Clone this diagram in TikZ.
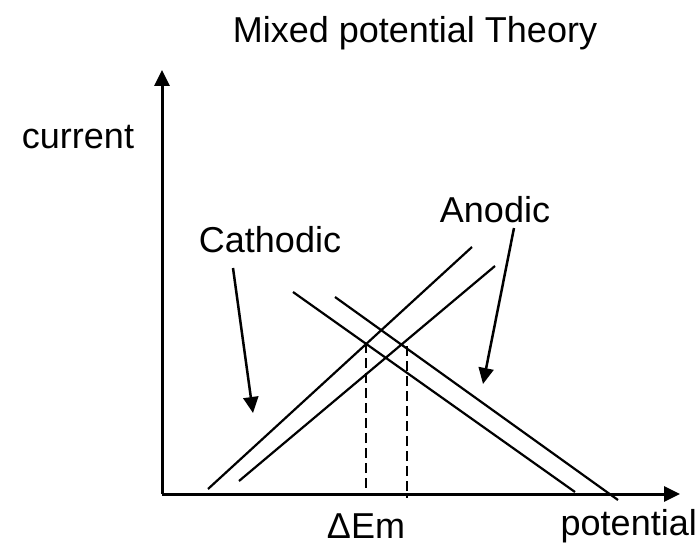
\documentclass[tikz,border=0pt]{standalone}
\usepackage{fontspec}
\setmainfont{Liberation Sans}
\usetikzlibrary{arrows.meta}
\begin{document}
\begin{tikzpicture}[x=1pt, y=-1pt, line cap=butt, line join=miter, >={Triangle[length=16pt,width=15pt]}, font=\fontsize{36}{43}\selectfont]
			\useasboundingbox (0,0) rectangle (699,551);
			% axes
			\coordinate (O) at (162,494);
			\coordinate (ytop) at (162,70);
			\coordinate (xend) at (680,494);
			\draw[line width=3pt,->] (O) -- (ytop);
			\draw[line width=3pt,->] (O) -- (xend);
			\node (title) at (415,33) {Mixed potential Theory};
			\node (ylab) at (78,137) {current};
			\node[anchor=east, inner xsep=0pt] (xlab) at (697,526) {potential};
			\node (dE) at (366,526) {ΔEm};
			% anodic and cathodic lines
			\coordinate (a1) at (208,489); \coordinate (a1e) at (472,247);
			\coordinate (a2) at (239,481); \coordinate (a2e) at (495,266);
			\coordinate (c1) at (293,292); \coordinate (c1e) at (575,492);
			\coordinate (c2) at (335,297); \coordinate (c2e) at (618,500);
			\draw[line width=2.2pt] (a1) -- (a1e) (a2) -- (a2e) (c1) -- (c1e) (c2) -- (c2e);
			% mixed potentials
			\coordinate (m1) at (366,343); \coordinate (m1b) at (366,493);
			\coordinate (m2) at (407,346); \coordinate (m2b) at (407,498);
			\draw[line width=2.2pt, dash pattern=on 10pt off 5pt] (m1) -- (m1b) (m2) -- (m2b);
			% labels
			\node (cat) at (270,240) {Cathodic};
			\node (ano) at (495,210) {Anodic};
			\coordinate (cattail) at (233,268); \coordinate (cattip) at (253,413);
			\coordinate (anotail) at (514,228); \coordinate (anotip) at (483,384);
			\draw[line width=2.5pt,->] (cattail) -- (cattip);
			\draw[line width=2.5pt,->] (anotail) -- (anotip);
		\end{tikzpicture}
\end{document}
